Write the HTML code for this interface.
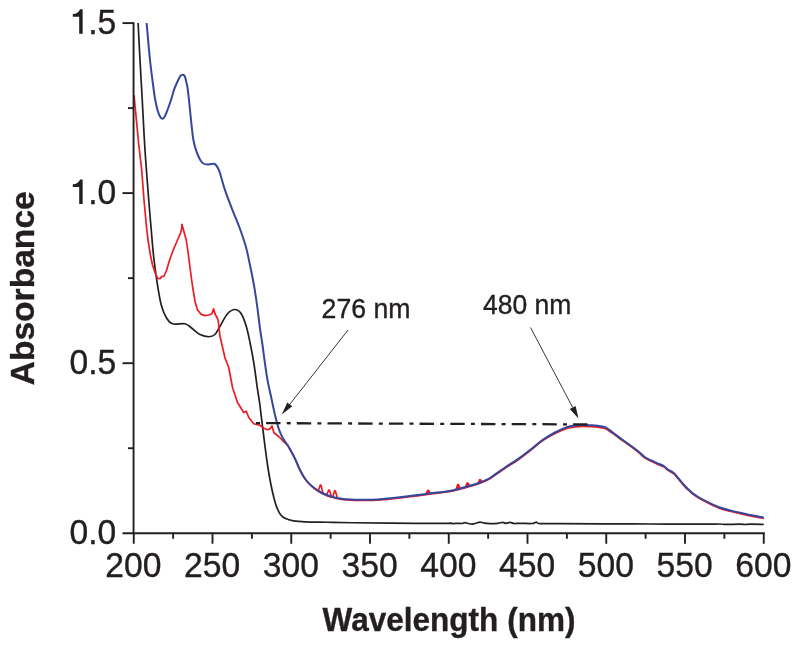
<!DOCTYPE html>
<html><head><meta charset="utf-8"><title>UV-Vis absorbance</title>
<style>html,body{margin:0;padding:0;background:#fff}body{width:800px;height:646px;overflow:hidden;font-family:"Liberation Sans",sans-serif}</style></head>
<body>
<svg width="800" height="646" viewBox="0 0 800 646" style="display:block;will-change:transform">
<rect width="800" height="646" fill="#fff"/>
<g fill="none" stroke-linejoin="round" stroke-linecap="butt">
<path d="M138.10 23.00 C138.42 29.17 139.31 47.17 140.00 60.00 C140.69 72.83 141.42 85.00 142.25 100.00 C143.08 115.00 143.92 133.33 145.00 150.00 C146.08 166.67 147.71 186.67 148.75 200.00 C149.79 213.33 150.42 220.42 151.25 230.00 C152.08 239.58 152.71 248.33 153.75 257.50 C154.79 266.67 156.25 277.08 157.50 285.00 C158.75 292.92 159.79 299.58 161.25 305.00 C162.71 310.42 164.38 314.38 166.25 317.50 C168.12 320.62 169.38 322.71 172.50 323.75 C175.62 324.79 181.67 322.92 185.00 323.75 C188.33 324.58 190.00 326.96 192.50 328.75 C195.00 330.54 197.29 333.17 200.00 334.50 C202.71 335.83 206.25 336.75 208.75 336.75 C211.25 336.75 213.12 336.25 215.00 334.50 C216.88 332.75 217.92 329.71 220.00 326.25 C222.08 322.79 225.00 316.54 227.50 313.75 C230.00 310.96 232.71 309.50 235.00 309.50 C237.29 309.50 239.38 310.96 241.25 313.75 C243.12 316.54 244.79 321.46 246.25 326.25 C247.71 331.04 248.75 336.46 250.00 342.50 C251.25 348.54 252.53 354.92 253.75 362.50 C254.97 370.08 256.34 381.42 257.30 388.00 C258.26 394.58 258.78 396.83 259.50 402.00 C260.22 407.17 260.73 412.00 261.60 419.00 C262.47 426.00 263.70 436.25 264.70 444.00 C265.70 451.75 266.60 458.92 267.60 465.50 C268.60 472.08 269.68 478.25 270.70 483.50 C271.72 488.75 272.72 493.10 273.70 497.00 C274.68 500.90 275.45 503.95 276.60 506.90 C277.75 509.85 279.12 512.75 280.60 514.70 C282.08 516.65 283.35 517.58 285.50 518.60 C287.65 519.62 290.20 520.27 293.50 520.80 C296.80 521.33 299.63 521.56 305.30 521.80 C310.97 522.04 319.63 522.09 327.50 522.25 C335.37 522.41 342.08 522.59 352.50 522.75 C362.92 522.91 374.25 523.09 390.00 523.20 C405.75 523.31 437.00 523.40 447.00 523.40 C457.00 523.40 449.00 523.17 450.00 523.20 C451.00 523.23 451.67 523.58 453.00 523.60 C454.33 523.62 456.50 523.32 458.00 523.30 C459.50 523.28 460.83 523.62 462.00 523.50 C463.17 523.38 464.00 522.60 465.00 522.60 C466.00 522.60 466.75 523.25 468.00 523.50 C469.25 523.75 471.17 524.15 472.50 524.10 C473.83 524.05 474.75 523.53 476.00 523.20 C477.25 522.87 478.67 522.12 480.00 522.10 C481.33 522.08 482.33 522.85 484.00 523.10 C485.67 523.35 487.67 523.57 490.00 523.60 C492.33 523.63 495.92 523.50 498.00 523.30 C500.08 523.10 501.17 522.40 502.50 522.40 C503.83 522.40 504.75 523.30 506.00 523.30 C507.25 523.30 508.67 522.37 510.00 522.40 C511.33 522.43 512.33 523.35 514.00 523.50 C515.67 523.65 517.00 523.30 520.00 523.30 C523.00 523.30 529.29 523.68 532.00 523.50 C534.71 523.32 534.92 522.18 536.25 522.20 C537.58 522.22 536.04 523.37 540.00 523.60 C543.96 523.83 550.00 523.57 560.00 523.60 C570.00 523.63 585.00 523.73 600.00 523.80 C615.00 523.87 633.33 523.93 650.00 524.00 C666.67 524.07 688.33 524.20 700.00 524.20 C711.67 524.20 716.00 523.97 720.00 524.00 C724.00 524.03 720.67 524.37 724.00 524.40 C727.33 524.43 736.50 524.18 740.00 524.20 C743.50 524.22 743.33 524.50 745.00 524.50 C746.67 524.50 746.88 524.23 750.00 524.20 C753.12 524.17 761.46 524.28 763.75 524.30" stroke="#231f20" stroke-width="1.7"/>
<path d="M134.00 95.00 L136.40 120.00 L138.70 144.00 L141.70 170.00 L144.00 200.00 L146.30 225.00 L148.00 240.00 L150.40 255.00 L152.50 265.00 L155.00 272.50 L157.50 278.10 L160.00 278.75 L161.90 276.25 L163.75 276.50 L166.25 271.25 L170.00 258.75 L173.75 248.75 L177.50 240.00 L180.60 232.80 L181.60 229.00 L182.00 224.40 L184.50 233.75 L186.25 240.00 L188.10 252.50 L190.00 267.50 L192.50 286.25 L195.00 301.25 L197.50 310.00 L201.25 314.40 L205.00 315.60 L208.75 315.00 L211.90 313.75 L213.50 308.75 L215.00 313.75 L216.90 317.50 L218.10 320.00 L220.00 336.25 L225.00 358.00 L228.75 367.50 L232.50 387.50 L237.50 402.50 L243.75 412.50 L246.25 411.25 L248.75 417.50 L253.75 423.75 L260.00 425.25 L263.75 428.25 L267.50 429.75 L269.75 429.00 L272.00 426.00 L273.90 432.75 L278.75 436.50 L283.00 441.00 L287.50 445.00 C288.33 446.46 291.15 451.25 292.50 453.75 C293.85 456.25 294.35 457.29 295.60 460.00 C296.85 462.71 298.43 466.88 300.00 470.00 C301.57 473.12 303.33 476.31 305.00 478.75 C306.67 481.19 308.33 482.94 310.00 484.65 C311.67 486.36 313.12 487.59 315.00 489.00 C316.88 490.41 319.17 491.93 321.25 493.08 C323.33 494.24 325.42 495.13 327.50 495.92 C329.58 496.70 331.67 497.27 333.75 497.80 C335.83 498.33 337.92 498.75 340.00 499.10 C342.08 499.46 343.75 499.73 346.25 499.96 C348.75 500.18 351.88 500.38 355.00 500.46 C358.12 500.55 361.25 500.52 365.00 500.47 C368.75 500.41 374.17 500.28 377.50 500.12 C380.83 499.97 381.67 499.84 385.00 499.53 C388.33 499.21 393.33 498.70 397.50 498.23 C401.67 497.77 405.83 497.25 410.00 496.74 C414.17 496.22 418.33 495.68 422.50 495.14 C426.67 494.60 430.83 494.02 435.00 493.50 C439.17 492.98 444.17 492.50 447.50 492.01 C450.83 491.51 452.50 491.09 455.00 490.51 C457.50 489.93 459.58 489.30 462.50 488.51 C465.42 487.72 469.58 486.64 472.50 485.77 C475.42 484.89 477.50 484.22 480.00 483.27 C482.50 482.32 485.42 481.12 487.50 480.07 C489.58 479.03 489.58 478.99 492.50 477.03 C495.42 475.06 500.83 471.09 505.00 468.28 C509.17 465.48 513.33 463.10 517.50 460.19 C521.67 457.27 525.83 454.02 530.00 450.80 C534.17 447.57 538.33 443.72 542.50 440.85 C546.67 437.98 550.83 435.68 555.00 433.57 C559.17 431.47 564.17 429.31 567.50 428.20 C570.83 427.10 572.50 427.24 575.00 426.95 C577.50 426.66 580.00 426.50 582.50 426.45 C585.00 426.40 587.50 426.53 590.00 426.65 C592.50 426.77 595.00 426.84 597.50 427.15 C600.00 427.46 602.92 427.80 605.00 428.53 C607.08 429.25 608.33 430.39 610.00 431.50 C611.67 432.61 612.92 433.65 615.00 435.18 C617.08 436.70 619.79 438.70 622.50 440.65 C625.21 442.60 628.54 444.87 631.25 446.85 C633.96 448.83 636.46 450.67 638.75 452.55 C641.04 454.43 642.92 456.70 645.00 458.15 C647.08 459.60 649.17 460.25 651.25 461.25 C653.33 462.25 655.42 463.22 657.50 464.15 C659.58 465.08 662.08 465.87 663.75 466.85 C665.42 467.83 665.83 468.90 667.50 470.05 C669.17 471.20 671.88 472.17 673.75 473.75 C675.62 475.33 676.88 477.37 678.75 479.55 C680.62 481.73 683.12 484.83 685.00 486.85 C686.88 488.87 688.75 490.48 690.00 491.65 C691.25 492.82 690.83 492.65 692.50 493.85 C694.17 495.05 697.08 497.17 700.00 498.85 C702.92 500.53 706.67 502.37 710.00 503.95 C713.33 505.53 716.67 507.13 720.00 508.35 C723.33 509.57 726.67 510.38 730.00 511.25 C733.33 512.12 736.67 512.83 740.00 513.60 C743.33 514.37 746.04 515.06 750.00 515.85 C753.96 516.64 761.46 517.93 763.75 518.35 M318.20 490.95 L320.25 484.98 L320.95 484.98 L323.00 493.67 M326.60 495.25 L328.65 489.99 L329.35 489.99 L331.40 496.80 M332.60 497.16 L334.65 490.86 L335.35 490.86 L337.40 498.26" stroke="#ed1c24" stroke-width="1.7"/>
<path d="M425.80 494.36 L427.60 490.16 L428.60 490.16 L430.40 493.76Z M455.80 489.94 L457.60 484.42 L458.60 484.42 L460.40 488.71Z M465.20 487.41 L467.00 482.88 L468.00 482.88 L469.80 486.14Z M477.70 483.67 L479.50 479.60 L480.50 479.60 L482.30 481.92Z" stroke="#ed1c24" stroke-width="1.4" fill="#ed1c24"/>
<path d="M146.60 23.00 C147.17 29.17 148.81 48.83 150.00 60.00 C151.19 71.17 152.88 83.33 153.75 90.00 C154.62 96.67 154.62 96.67 155.25 100.00 C155.88 103.33 156.71 107.25 157.50 110.00 C158.29 112.75 159.17 115.04 160.00 116.50 C160.83 117.96 161.67 118.83 162.50 118.75 C163.33 118.67 164.17 117.46 165.00 116.00 C165.83 114.54 166.50 112.67 167.50 110.00 C168.50 107.33 169.96 103.25 171.00 100.00 C172.04 96.75 173.10 92.58 173.75 90.50 C174.40 88.42 174.28 89.00 174.90 87.50 C175.53 86.00 176.69 83.25 177.50 81.50 C178.31 79.75 179.12 78.03 179.75 77.00 C180.38 75.97 180.72 75.68 181.25 75.30 C181.78 74.92 182.38 74.63 182.90 74.70 C183.43 74.77 183.98 75.13 184.40 75.70 C184.82 76.27 185.12 77.20 185.40 78.10 C185.68 79.00 185.85 80.03 186.10 81.10 C186.35 82.17 186.65 83.31 186.90 84.50 C187.15 85.69 187.25 85.67 187.60 88.25 C187.95 90.83 188.43 94.71 189.00 100.00 C189.57 105.29 190.48 115.00 191.00 120.00 C191.52 125.00 191.72 126.83 192.10 130.00 C192.47 133.17 192.75 136.12 193.25 139.00 C193.75 141.88 194.35 144.62 195.10 147.25 C195.85 149.88 196.81 152.50 197.75 154.75 C198.69 157.00 199.75 159.25 200.75 160.75 C201.75 162.25 202.62 163.12 203.75 163.75 C204.88 164.38 206.25 164.44 207.50 164.50 C208.75 164.56 210.18 164.22 211.25 164.10 C212.32 163.97 213.09 163.56 213.90 163.75 C214.71 163.94 215.42 164.50 216.10 165.25 C216.78 166.00 217.37 167.00 218.00 168.25 C218.63 169.50 219.33 171.12 219.90 172.75 C220.47 174.38 220.57 175.16 221.40 178.00 C222.23 180.84 223.08 184.53 224.90 189.80 C226.72 195.07 229.83 203.20 232.30 209.60 C234.77 216.00 237.43 222.02 239.70 228.20 C241.97 234.38 244.05 239.90 245.90 246.70 C247.75 253.50 249.35 261.98 250.80 269.00 C252.25 276.02 253.48 282.20 254.60 288.80 C255.72 295.40 256.60 302.00 257.50 308.60 C258.40 315.20 259.17 322.33 260.00 328.40 C260.83 334.47 261.75 339.73 262.50 345.00 C263.25 350.27 263.67 354.17 264.50 360.00 C265.33 365.83 266.38 373.75 267.50 380.00 C268.62 386.25 270.00 391.67 271.25 397.50 C272.50 403.33 273.75 409.79 275.00 415.00 C276.25 420.21 277.50 425.00 278.75 428.75 C280.00 432.50 281.04 434.79 282.50 437.50 C283.96 440.21 285.83 442.29 287.50 445.00 C289.17 447.71 291.15 451.25 292.50 453.75 C293.85 456.25 294.35 457.29 295.60 460.00 C296.85 462.71 298.43 466.88 300.00 470.00 C301.57 473.12 303.33 476.35 305.00 478.75 C306.67 481.15 308.33 482.77 310.00 484.40 C311.67 486.02 313.12 487.15 315.00 488.50 C316.88 489.85 319.17 491.38 321.25 492.50 C323.33 493.62 325.42 494.48 327.50 495.25 C329.58 496.02 331.67 496.58 333.75 497.10 C335.83 497.62 337.92 498.04 340.00 498.40 C342.08 498.76 343.75 499.02 346.25 499.25 C348.75 499.48 351.88 499.67 355.00 499.75 C358.12 499.83 361.25 499.81 365.00 499.75 C368.75 499.69 374.17 499.56 377.50 499.40 C380.83 499.24 381.67 499.12 385.00 498.80 C388.33 498.48 393.33 497.97 397.50 497.50 C401.67 497.03 405.83 496.52 410.00 496.00 C414.17 495.48 418.33 494.94 422.50 494.40 C426.67 493.86 430.83 493.27 435.00 492.75 C439.17 492.23 444.17 491.75 447.50 491.25 C450.83 490.75 452.50 490.33 455.00 489.75 C457.50 489.17 459.58 488.54 462.50 487.75 C465.42 486.96 469.58 485.88 472.50 485.00 C475.42 484.12 477.50 483.45 480.00 482.50 C482.50 481.55 485.42 480.34 487.50 479.30 C489.58 478.26 489.58 478.22 492.50 476.25 C495.42 474.28 500.83 470.31 505.00 467.50 C509.17 464.69 513.33 462.32 517.50 459.40 C521.67 456.48 525.83 453.23 530.00 450.00 C534.17 446.77 538.33 442.92 542.50 440.00 C546.67 437.08 550.83 434.68 555.00 432.50 C559.17 430.32 564.17 428.05 567.50 426.90 C570.83 425.75 572.50 425.90 575.00 425.60 C577.50 425.30 580.00 425.15 582.50 425.10 C585.00 425.05 587.50 425.18 590.00 425.30 C592.50 425.42 595.00 425.47 597.50 425.80 C600.00 426.13 602.92 426.53 605.00 427.30 C607.08 428.07 608.33 429.25 610.00 430.40 C611.67 431.55 612.92 432.63 615.00 434.20 C617.08 435.77 619.79 437.83 622.50 439.80 C625.21 441.77 628.54 444.02 631.25 446.00 C633.96 447.98 636.46 449.82 638.75 451.70 C641.04 453.58 642.92 455.85 645.00 457.30 C647.08 458.75 649.17 459.40 651.25 460.40 C653.33 461.40 655.42 462.37 657.50 463.30 C659.58 464.23 662.08 465.02 663.75 466.00 C665.42 466.98 665.83 468.05 667.50 469.20 C669.17 470.35 671.88 471.32 673.75 472.90 C675.62 474.48 676.88 476.52 678.75 478.70 C680.62 480.88 683.12 483.98 685.00 486.00 C686.88 488.02 688.75 489.63 690.00 490.80 C691.25 491.97 690.83 491.80 692.50 493.00 C694.17 494.20 697.08 496.32 700.00 498.00 C702.92 499.68 706.67 501.52 710.00 503.10 C713.33 504.68 716.67 506.28 720.00 507.50 C723.33 508.72 726.67 509.52 730.00 510.40 C733.33 511.27 736.67 511.98 740.00 512.75 C743.33 513.52 746.04 514.21 750.00 515.00 C753.96 515.79 761.46 517.08 763.75 517.50" stroke="#34479c" stroke-width="2"/>
</g>
<g stroke="#231f20" stroke-width="1.9" fill="none">
<path d="M133.55 22.2V534.2"/>
<path d="M122.5 533.25H764.9"/>
<path d="M122.5 23.10H133.75"/>
<path d="M122.5 193.10H133.75"/>
<path d="M122.5 363.20H133.75"/>
<path d="M128 108.10H133.75"/>
<path d="M128 278.15H133.75"/>
<path d="M128 448.23H133.75"/>
<path d="M133.75 533.25V543.75"/>
<path d="M212.50 533.25V543.75"/>
<path d="M291.25 533.25V543.75"/>
<path d="M370.00 533.25V543.75"/>
<path d="M448.75 533.25V543.75"/>
<path d="M527.50 533.25V543.75"/>
<path d="M606.25 533.25V543.75"/>
<path d="M685.00 533.25V543.75"/>
<path d="M763.75 533.25V543.75"/>
<path d="M173.12 533.25V538.75"/>
<path d="M251.88 533.25V538.75"/>
<path d="M330.62 533.25V538.75"/>
<path d="M409.38 533.25V538.75"/>
<path d="M488.12 533.25V538.75"/>
<path d="M566.88 533.25V538.75"/>
<path d="M645.62 533.25V538.75"/>
<path d="M724.38 533.25V538.75"/>
</g>
<path d="M256 423.1L588.25 424.4" stroke="#231f20" stroke-width="2.3" stroke-dasharray="4 6.1 14.4 6.2" fill="none"/>
<path d="M348.00 330.00L289.77 404.36" stroke="#231f20" stroke-width="0.9" fill="none"/><path d="M281.75 414.60L287.29 402.42L292.25 406.31Z" fill="#231f20"/>
<path d="M530.50 327.50L572.67 407.44" stroke="#231f20" stroke-width="0.9" fill="none"/><path d="M578.50 418.50L569.75 408.98L575.59 405.90Z" fill="#231f20"/>
<g font-family="Liberation Sans, sans-serif" fill="#231f20" stroke="#231f20" stroke-width="0.35">
<text transform="translate(133.35 577.40) scale(1.0200 1.0500)" font-size="33" text-anchor="middle">200</text>
<text transform="translate(212.10 577.40) scale(1.0200 1.0500)" font-size="33" text-anchor="middle">250</text>
<text transform="translate(290.85 577.40) scale(1.0200 1.0500)" font-size="33" text-anchor="middle">300</text>
<text transform="translate(369.60 577.40) scale(1.0200 1.0500)" font-size="33" text-anchor="middle">350</text>
<text transform="translate(448.35 577.40) scale(1.0200 1.0500)" font-size="33" text-anchor="middle">400</text>
<text transform="translate(527.10 577.40) scale(1.0200 1.0500)" font-size="33" text-anchor="middle">450</text>
<text transform="translate(605.85 577.40) scale(1.0200 1.0500)" font-size="33" text-anchor="middle">500</text>
<text transform="translate(684.60 577.40) scale(1.0200 1.0500)" font-size="33" text-anchor="middle">550</text>
<text transform="translate(763.35 577.40) scale(1.0200 1.0500)" font-size="33" text-anchor="middle">600</text>
<text transform="translate(116.20 33.60) scale(1.0200 1.0500)" font-size="33" text-anchor="end">.5</text>
<path d="M82.65 33.75V9.20H80.10C78.80 12.30 76.20 13.90 72.80 14.00V16.70H79.20V33.75Z" stroke="none"/>
<text transform="translate(116.20 203.85) scale(1.0200 1.0500)" font-size="33" text-anchor="end">.0</text>
<path d="M82.65 204.00V179.45H80.10C78.80 182.55 76.20 184.15 72.80 184.25V186.95H79.20V204.00Z" stroke="none"/>
<text transform="translate(116.20 374.20) scale(1.0200 1.0500)" font-size="33" text-anchor="end">0.5</text>
<text transform="translate(116.20 544.20) scale(1.0200 1.0500)" font-size="33" text-anchor="end">0.0</text>
<text transform="translate(321.60 317.70) scale(1.0250 1.0400)" font-size="26" text-anchor="start">276 nm</text>
<text transform="translate(482.90 314.40) scale(1.0200 1.0400)" font-size="26" text-anchor="start">480 nm</text>
<text transform="translate(449.00 630.80) scale(0.9860 1.0600)" font-size="32" text-anchor="middle" font-weight="bold">Wavelength (nm)</text>
<text transform="translate(34.10 288.30) rotate(-90)" font-size="33.6" text-anchor="middle" font-weight="bold">Absorbance</text>
</g>
</svg>
</body></html>
